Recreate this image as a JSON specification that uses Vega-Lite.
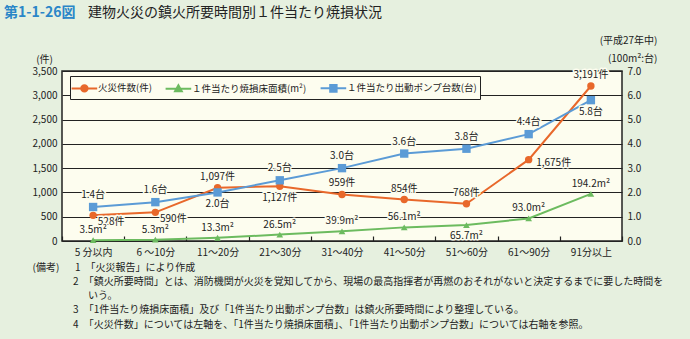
{
  "$schema": "https://vega.github.io/schema/vega-lite/v6.json",
  "width": 560,
  "height": 170,
  "autosize": {"type": "none"},
  "padding": {"left": 62, "top": 71, "right": 68, "bottom": 98},
  "background": "#e6f0df",
  "config": {
    "font": "Noto Sans CJK JP",
    "view": {"fill": "#fdfdef", "stroke": "#222222", "strokeWidth": 1.5},
    "axis": {"labelFont": "Noto Sans CJK JP", "titleFont": "Noto Sans CJK JP", "labelColor": "#222222", "titleColor": "#222222", "labelFontSize": 10, "titleFontSize": 10, "titleFontWeight": "normal"},
    "legend": {"labelFont": "Noto Sans CJK JP"},
    "title": {"font": "Noto Sans CJK JP", "subtitleFont": "Noto Sans CJK JP"}
  },
  "title": {
    "text": "第1-1-26図",
    "subtitle": "\u200B　　　　　　建物火災の鎮火所要時間別１件当たり焼損状況",
    "anchor": "start",
    "frame": "group",
    "orient": "top",
    "dx": -58,
    "offset": 15,
    "color": "#2a86c8",
    "fontSize": 14,
    "fontWeight": "bold",
    "subtitleColor": "#222222",
    "subtitleFontSize": 14,
    "subtitleFontWeight": "normal",
    "subtitlePadding": -14
  },
  "data": {
    "values": [
      {"cat": "5 分以内", "series": "火災件数(件)", "v": 528, "lab": "528件"},
      {"cat": "6 ～10分", "series": "火災件数(件)", "v": 590, "lab": "590件"},
      {"cat": "11～20分", "series": "火災件数(件)", "v": 1097, "lab": "1,097件"},
      {"cat": "21～30分", "series": "火災件数(件)", "v": 1127, "lab": "1,127件"},
      {"cat": "31～40分", "series": "火災件数(件)", "v": 959, "lab": "959件"},
      {"cat": "41～50分", "series": "火災件数(件)", "v": 854, "lab": "854件"},
      {"cat": "51～60分", "series": "火災件数(件)", "v": 768, "lab": "768件"},
      {"cat": "61～90分", "series": "火災件数(件)", "v": 1675, "lab": "1,675件"},
      {"cat": "91分以上", "series": "火災件数(件)", "v": 3191, "lab": "3,191件"},
      {"cat": "5 分以内", "series": "１件当たり焼損床面積(m²)", "v": 0.035, "lab": "3.5m²"},
      {"cat": "6 ～10分", "series": "１件当たり焼損床面積(m²)", "v": 0.053, "lab": "5.3m²"},
      {"cat": "11～20分", "series": "１件当たり焼損床面積(m²)", "v": 0.133, "lab": "13.3m²"},
      {"cat": "21～30分", "series": "１件当たり焼損床面積(m²)", "v": 0.265, "lab": "26.5m²"},
      {"cat": "31～40分", "series": "１件当たり焼損床面積(m²)", "v": 0.399, "lab": "39.9m²"},
      {"cat": "41～50分", "series": "１件当たり焼損床面積(m²)", "v": 0.561, "lab": "56.1m²"},
      {"cat": "51～60分", "series": "１件当たり焼損床面積(m²)", "v": 0.657, "lab": "65.7m²"},
      {"cat": "61～90分", "series": "１件当たり焼損床面積(m²)", "v": 0.93, "lab": "93.0m²"},
      {"cat": "91分以上", "series": "１件当たり焼損床面積(m²)", "v": 1.942, "lab": "194.2m²"},
      {"cat": "5 分以内", "series": "１件当たり出動ポンプ台数(台)", "v": 1.4, "lab": "1.4台"},
      {"cat": "6 ～10分", "series": "１件当たり出動ポンプ台数(台)", "v": 1.6, "lab": "1.6台"},
      {"cat": "11～20分", "series": "１件当たり出動ポンプ台数(台)", "v": 2.0, "lab": "2.0台"},
      {"cat": "21～30分", "series": "１件当たり出動ポンプ台数(台)", "v": 2.5, "lab": "2.5台"},
      {"cat": "31～40分", "series": "１件当たり出動ポンプ台数(台)", "v": 3.0, "lab": "3.0台"},
      {"cat": "41～50分", "series": "１件当たり出動ポンプ台数(台)", "v": 3.6, "lab": "3.6台"},
      {"cat": "51～60分", "series": "１件当たり出動ポンプ台数(台)", "v": 3.8, "lab": "3.8台"},
      {"cat": "61～90分", "series": "１件当たり出動ポンプ台数(台)", "v": 4.4, "lab": "4.4台"},
      {"cat": "91分以上", "series": "１件当たり出動ポンプ台数(台)", "v": 5.8, "lab": "5.8台"}
    ]
  },
  "encoding": {
    "x": {
      "field": "cat",
      "type": "nominal",
      "sort": null,
      "scale": {"type": "band", "paddingInner": 0, "paddingOuter": 0},
      "axis": {
        "orient": "bottom",
        "labelAngle": 0,
        "domain": false,
        "ticks": true,
        "tickBand": "extent",
        "tickSize": -5,
        "tickColor": "#222222",
        "tickWidth": 1.2,
        "labelPadding": 11,
        "title": [
          "(備考)　\u2002\u200A1\u2002「火災報告」により作成",
          "\u200B　　　　\u200A2\u2002「鎮火所要時間」とは、消防機関が火災を覚知してから、現場の最高指揮者が再燃のおそれがないと決定するまでに要した時間を",
          "\u200B　　　　　\u2002\u200Aいう。",
          "\u200B　　　　\u200A3\u2002「1件当たり焼損床面積」及び「1件当たり出動ポンプ台数」は鎮火所要時間により整理している。",
          "\u200B　　　　\u200A4\u2002「火災件数」については左軸を、「1件当たり焼損床面積」、「1件当たり出動ポンプ台数」については右軸を参照。"
        ],
        "titleAlign": "left",
        "titleAnchor": "start",
        "titleX": -30,
        "titleY": 21,
        "titleBaseline": "top",
        "titleLineHeight": 14.3
      }
    },
    "color": {
      "field": "series",
      "type": "nominal",
      "scale": {
        "domain": ["火災件数(件)", "１件当たり焼損床面積(m²)", "１件当たり出動ポンプ台数(台)"],
        "range": ["#e8682b", "#6cbb5f", "#5b9bd6"]
      },
      "legend": {
        "orient": "none",
        "legendX": 8,
        "legendY": 5,
        "direction": "horizontal",
        "title": null,
        "fillColor": "#fdfdef",
        "strokeColor": "#222222",
        "padding": 3,
        "labelFontSize": 9.5,
        "labelColor": "#222222",
        "labelOffset": 7,
        "columnPadding": 9,
        "symbolSize": 256,
        "symbolStrokeWidth": 2,
        "encode": {
          "symbols": {
            "update": {
              "shape": {"signal": "datum.value === '火災件数(件)' ? 'M-1.3,0L1.9,0M0.7,0A0.4,0.4,0,1,1,-0.1,0A0.4,0.4,0,1,1,0.7,0' : datum.value === '１件当たり焼損床面積(m²)' ? 'M-1.3,0L1.9,0M0.3,-0.42L0.72,0.32L-0.12,0.32Z' : 'M-1.3,0L1.9,0M-0.1,-0.42L0.7,-0.42L0.7,0.42L-0.1,0.42Z'"},
              "fill": {"scale": "color", "field": "value"},
              "stroke": {"scale": "color", "field": "value"},
              "strokeWidth": {"value": 2},
              "opacity": {"value": 1}
            }
          }
        }
      }
    }
  },
  "layer": [
    {
      "transform": [{"filter": "datum.series === '火災件数(件)'"}],
      "encoding": {
        "y": {
          "field": "v",
          "type": "quantitative",
          "scale": {"domain": [0, 3500], "nice": false},
          "axis": {
            "orient": "left",
            "values": [0, 500, 1000, 1500, 2000, 2500, 3000, 3500],
            "format": ",d",
            "grid": true,
            "gridColor": "#222222",
            "gridWidth": 1.2,
            "domain": false,
            "ticks": false,
            "labelPadding": 5,
            "title": "(件)",
            "titleAngle": 0,
            "titleX": -18,
            "titleY": -12,
            "titleAlign": "center",
            "titleBaseline": "middle"
          }
        }
      },
      "layer": [
        {"mark": {"type": "line", "strokeWidth": 2}},
        {"mark": {"type": "point", "shape": "circle", "filled": true, "size": 55, "opacity": 1}},
        {
          "transform": [{"filter": {"field": "cat", "oneOf": ["11～20分", "31～40分", "41～50分", "51～60分", "91分以上"]}}],
          "encoding": {"text": {"field": "lab"}},
          "layer": [
            {"mark": {"type": "text", "dy": -11, "fontSize": 10, "stroke": "#fdfdef", "strokeWidth": 3, "strokeJoin": "round"}, "encoding": {"color": {"value": "#fdfdef"}}},
            {"mark": {"type": "text", "dy": -11, "fontSize": 10}, "encoding": {"color": {"value": "#222222"}}}
          ]
        },
        {
          "transform": [{"filter": {"field": "cat", "oneOf": ["21～30分"]}}],
          "encoding": {"text": {"field": "lab"}},
          "layer": [
            {"mark": {"type": "text", "dy": 12, "fontSize": 10, "stroke": "#fdfdef", "strokeWidth": 3, "strokeJoin": "round"}, "encoding": {"color": {"value": "#fdfdef"}}},
            {"mark": {"type": "text", "dy": 12, "fontSize": 10}, "encoding": {"color": {"value": "#222222"}}}
          ]
        },
        {
          "transform": [{"filter": {"field": "cat", "oneOf": ["5 分以内", "6 ～10分"]}}],
          "encoding": {"text": {"field": "lab"}},
          "layer": [
            {"mark": {"type": "text", "dx": 18, "dy": 7, "fontSize": 10, "stroke": "#fdfdef", "strokeWidth": 3, "strokeJoin": "round"}, "encoding": {"color": {"value": "#fdfdef"}}},
            {"mark": {"type": "text", "dx": 18, "dy": 7, "fontSize": 10}, "encoding": {"color": {"value": "#222222"}}}
          ]
        },
        {
          "transform": [{"filter": {"field": "cat", "oneOf": ["61～90分"]}}],
          "encoding": {"text": {"field": "lab"}},
          "layer": [
            {"mark": {"type": "text", "dx": 25, "dy": 3, "fontSize": 10, "stroke": "#fdfdef", "strokeWidth": 3, "strokeJoin": "round"}, "encoding": {"color": {"value": "#fdfdef"}}},
            {"mark": {"type": "text", "dx": 25, "dy": 3, "fontSize": 10}, "encoding": {"color": {"value": "#222222"}}}
          ]
        }
      ]
    },
    {
      "transform": [{"filter": "datum.series !== '火災件数(件)'"}],
      "encoding": {
        "y": {
          "field": "v",
          "type": "quantitative",
          "scale": {"domain": [0, 7], "nice": false},
          "axis": {
            "orient": "right",
            "values": [0, 1, 2, 3, 4, 5, 6, 7],
            "format": ".1f",
            "grid": false,
            "domain": false,
            "ticks": false,
            "labelPadding": 5,
            "title": ["(平成27年中)", "(100m²:台)"],
            "titleAngle": 0,
            "titleX": 35,
            "titleY": -31,
            "titleAlign": "right",
            "titleBaseline": "middle",
            "titleLineHeight": 18
          }
        }
      },
      "layer": [
        {"mark": {"type": "line", "strokeWidth": 2}},
        {"transform": [{"filter": "datum.series === '１件当たり焼損床面積(m²)'"}], "mark": {"type": "point", "shape": "triangle-up", "filled": true, "size": 45, "opacity": 1}},
        {"transform": [{"filter": "datum.series === '１件当たり出動ポンプ台数(台)'"}], "mark": {"type": "point", "shape": "square", "filled": true, "size": 70, "opacity": 1}},
        {
          "transform": [{"filter": "datum.series === '１件当たり焼損床面積(m²)' && datum.cat !== '51～60分'"}],
          "encoding": {"text": {"field": "lab"}},
          "layer": [
            {"mark": {"type": "text", "dy": -10, "fontSize": 10, "stroke": "#fdfdef", "strokeWidth": 3, "strokeJoin": "round"}, "encoding": {"color": {"value": "#fdfdef"}}},
            {"mark": {"type": "text", "dy": -10, "fontSize": 10}, "encoding": {"color": {"value": "#222222"}}}
          ]
        },
        {
          "transform": [{"filter": "datum.series === '１件当たり焼損床面積(m²)' && datum.cat === '51～60分'"}],
          "encoding": {"text": {"field": "lab"}},
          "layer": [
            {"mark": {"type": "text", "dy": 11, "fontSize": 10, "stroke": "#fdfdef", "strokeWidth": 3, "strokeJoin": "round"}, "encoding": {"color": {"value": "#fdfdef"}}},
            {"mark": {"type": "text", "dy": 11, "fontSize": 10}, "encoding": {"color": {"value": "#222222"}}}
          ]
        },
        {
          "transform": [{"filter": "datum.series === '１件当たり出動ポンプ台数(台)' && datum.cat !== '11～20分' && datum.cat !== '91分以上'"}],
          "encoding": {"text": {"field": "lab"}},
          "layer": [
            {"mark": {"type": "text", "dy": -12, "fontSize": 10, "stroke": "#fdfdef", "strokeWidth": 3, "strokeJoin": "round"}, "encoding": {"color": {"value": "#fdfdef"}}},
            {"mark": {"type": "text", "dy": -12, "fontSize": 10}, "encoding": {"color": {"value": "#222222"}}}
          ]
        },
        {
          "transform": [{"filter": "datum.series === '１件当たり出動ポンプ台数(台)' && (datum.cat === '11～20分' || datum.cat === '91分以上')"}],
          "encoding": {"text": {"field": "lab"}},
          "layer": [
            {"mark": {"type": "text", "dy": 12, "fontSize": 10, "stroke": "#fdfdef", "strokeWidth": 3, "strokeJoin": "round"}, "encoding": {"color": {"value": "#fdfdef"}}},
            {"mark": {"type": "text", "dy": 12, "fontSize": 10}, "encoding": {"color": {"value": "#222222"}}}
          ]
        }
      ]
    }
  ],
  "resolve": {"scale": {"y": "independent"}}
}
